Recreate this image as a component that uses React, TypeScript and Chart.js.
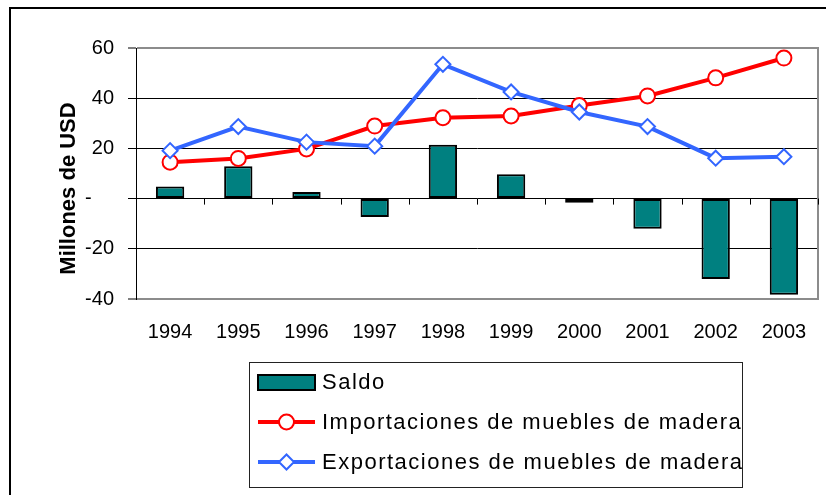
import React, { useEffect, useRef } from "react";
import { Chart, registerables } from "chart.js";

Chart.register(...registerables);

// ---- data ----
const years = ["1994", "1995", "1996", "1997", "1998", "1999", "2000", "2001", "2002", "2003"];
const saldo = [4.8, 12.9, 2.6, -7.3, 21.5, 9.7, -1.7, -12.0, -32.0, -38.3];
const importaciones = [14.5, 16.0, 19.8, 28.9, 32.2, 32.9, 37.1, 40.9, 48.1, 56.0];
const exportaciones = [19.1, 28.7, 22.5, 20.9, 53.5, 42.5, 34.5, 28.7, 16.1, 16.7];
const yMin = -40;
const yMax = 60;
const yStep = 20;
const yTitle = "Millones de USD";
const seriesLabels = [
  "Saldo",
  "Importaciones de muebles de madera",
  "Exportaciones de muebles de madera",
];

const FONT = "'Liberation Sans', Arial, sans-serif";
const TEAL = "#008080";
const RED = "#FF0000";
const BLUE = "#3366FF";
const FRAME_GRAY = "#8c8c8c";

function drawMarker(ctx: CanvasRenderingContext2D, style: string, x: number, y: number, r: number, stroke: string) {
  ctx.beginPath();
  if (style === "circle") {
    ctx.arc(x, y, r, 0, Math.PI * 2);
  } else {
    ctx.moveTo(x - r, y);
    ctx.lineTo(x, y - r);
    ctx.lineTo(x + r, y);
    ctx.lineTo(x, y + r);
    ctx.closePath();
  }
  ctx.fillStyle = "#fff";
  ctx.fill();
  ctx.lineWidth = 2;
  ctx.strokeStyle = stroke;
  ctx.stroke();
}

const decorPlugin = {
  id: "decor",
  beforeDatasetsDraw(chart: any) {
    const { ctx, chartArea: a, scales } = chart;
    const x = scales.x;
    const y = scales.y;
    ctx.save();
    // right frame of plot area
    ctx.strokeStyle = FRAME_GRAY;
    ctx.lineWidth = 2;
    ctx.beginPath();
    ctx.moveTo(a.right, a.top - 1);
    ctx.lineTo(a.right, a.bottom + 1);
    ctx.stroke();
    // small category ticks on the zero line
    const y0 = y.getPixelForValue(0);
    const n = years.length;
    const step = n > 1 ? x.getPixelForValue(1) - x.getPixelForValue(0) : a.right - a.left;
    ctx.strokeStyle = "#000";
    ctx.lineWidth = 1;
    ctx.beginPath();
    for (let i = 1; i <= n; i++) {
      const px = Math.round(x.getPixelForValue(i - 1) + step / 2) + 0.5;
      ctx.moveTo(px, y0);
      ctx.lineTo(px, y0 + 6);
    }
    ctx.stroke();
    ctx.restore();
  },
  afterDraw(chart: any) {
    const ctx: CanvasRenderingContext2D = chart.ctx;
    const a = chart.chartArea;
    ctx.save();
    // y-axis title
    ctx.translate(64, (a.top + a.bottom) / 2 + 15);
    ctx.rotate(-Math.PI / 2);
    ctx.font = `bold 22px ${FONT}`;
    ctx.fillStyle = "#000";
    ctx.textAlign = "center";
    ctx.textBaseline = "alphabetic";
    ctx.fillText(yTitle, 0, 0);
    ctx.restore();

    // legend box
    const L = { left: 238, top: 353, right: 731, bottom: 478 };
    ctx.save();
    ctx.strokeStyle = "#222";
    ctx.lineWidth = 1;
    ctx.strokeRect(L.left + 0.5, L.top + 0.5, L.right - L.left, L.bottom - L.top);
    const rows = [373, 413, 453];
    const swX0 = 247;
    const swX1 = 304;
    const textX = 311;
    const ds = chart.data.datasets;
    // bar swatch
    ctx.fillStyle = ds[0].backgroundColor;
    ctx.fillRect(swX0, rows[0] - 7, swX1 - swX0, 15);
    ctx.strokeStyle = "#000";
    ctx.lineWidth = 2;
    ctx.strokeRect(swX0, rows[0] - 7, swX1 - swX0, 15);
    // line swatches
    for (let i = 1; i <= 2; i++) {
      const d = ds[i];
      ctx.strokeStyle = d.borderColor;
      ctx.lineWidth = 4;
      ctx.beginPath();
      ctx.moveTo(swX0, rows[i]);
      ctx.lineTo(swX1, rows[i]);
      ctx.stroke();
      drawMarker(ctx, d.pointStyle, (swX0 + swX1) / 2, rows[i], 7.5, d.borderColor);
    }
    ctx.font = `22px ${FONT}`;
    ctx.fillStyle = "#000";
    ctx.textAlign = "left";
    ctx.textBaseline = "middle";
    (ctx as any).letterSpacing = "1.5px";
    for (let i = 0; i < 3; i++) {
      ctx.fillText(ds[i].label, textX, rows[i] + 1);
    }
    ctx.restore();
  },
};

export default function App() {
  const canvasRef = useRef<HTMLCanvasElement | null>(null);

  useEffect(() => {
    if (!canvasRef.current) return;
    const tickFont = { family: FONT, size: 20 };
    const chart = new Chart(canvasRef.current, {
      type: "bar",
      data: {
        labels: years,
        datasets: [
          {
            type: "bar",
            label: seriesLabels[0],
            data: saldo,
            backgroundColor: TEAL,
            borderColor: "#000",
            borderWidth: 2,
            borderSkipped: false,
            barPercentage: 0.415,
            categoryPercentage: 1,
            order: 3,
          } as any,
          {
            type: "line",
            label: seriesLabels[1],
            data: importaciones,
            borderColor: RED,
            backgroundColor: "#fff",
            borderWidth: 4,
            tension: 0,
            fill: false,
            pointStyle: "circle",
            pointRadius: 7.5,
            pointBackgroundColor: "#fff",
            pointBorderColor: RED,
            pointBorderWidth: 2,
            order: 2,
          } as any,
          {
            type: "line",
            label: seriesLabels[2],
            data: exportaciones,
            borderColor: BLUE,
            backgroundColor: "#fff",
            borderWidth: 4,
            tension: 0,
            fill: false,
            pointStyle: "rectRot",
            pointRadius: 7.5,
            pointBackgroundColor: "#fff",
            pointBorderColor: BLUE,
            pointBorderWidth: 2,
            order: 1,
          } as any,
        ],
      },
      options: {
        animation: false,
        responsive: true,
        maintainAspectRatio: false,
        layout: { padding: { left: 0, top: 39, right: 23, bottom: 170 } },
        plugins: {
          legend: { display: false },
          tooltip: { enabled: false },
        },
        scales: {
          x: {
            grid: { display: false, drawTicks: false },
            border: { display: false },
            ticks: { font: tickFont, color: "#000", padding: 21, maxRotation: 0, autoSkip: false },
            afterFit: (s: any) => {
              s.height = 40;
            },
          },
          y: {
            min: yMin,
            max: yMax,
            ticks: {
              stepSize: yStep,
              font: tickFont,
              color: "#000",
              padding: 14,
              callback: (v: any) => (Number(v) === 0 ? "-    " : String(v)),
            },
            grid: {
              color: (c: any) =>
                c.tick && (c.tick.value === yMax || c.tick.value === yMin) ? FRAME_GRAY : "#000",
              lineWidth: (c: any) =>
                c.tick && (c.tick.value === yMax || c.tick.value === yMin) ? 2 : 1,
              tickColor: "#000",
              tickLength: 8,
              tickWidth: 1,
            },
            border: { display: true, color: "#000", width: 1 },
            afterFit: (s: any) => {
              s.width = 125;
            },
          },
        },
      } as any,
      plugins: [decorPlugin],
    });
    return () => chart.destroy();
  }, []);

  return (
    <div
      style={{
        position: "fixed",
        left: 9,
        top: 7,
        width: 830,
        height: 500,
        borderLeft: "2px solid #000",
        borderTop: "2px solid #000",
        background: "#fff",
      }}
    >
      <canvas ref={canvasRef} />
    </div>
  );
}
